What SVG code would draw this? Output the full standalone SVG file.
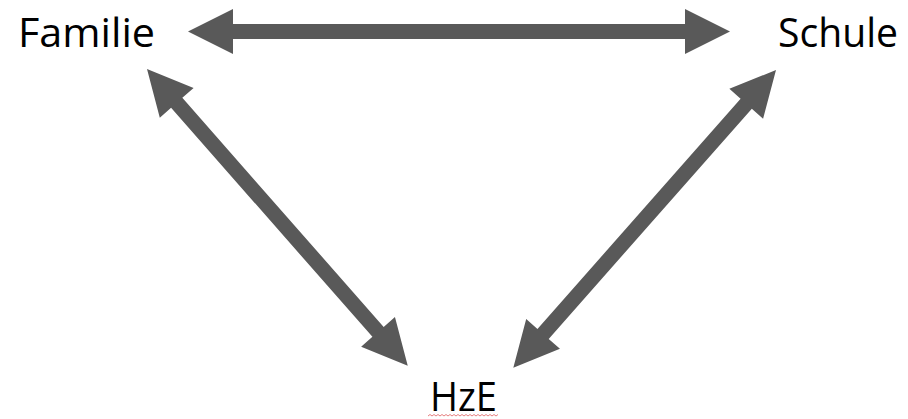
<svg xmlns="http://www.w3.org/2000/svg" width="908" height="419" viewBox="0 0 908 419">
  <style>
    .label { font-family: "Open Sans", "Liberation Sans", sans-serif; font-size: 40px; fill: #000; }
    .arrow { fill: #595959; }
  </style>
  <rect width="908" height="419" fill="#fff"/>
  <g id="connectors">
    <!-- double-headed arrow: tip at origin, second tip at (L,0) -->
    <polygon class="arrow" transform="translate(188,31.5)"
      points="0,0 45,-22.5 45,-7.5 497,-7.5 497,-22.5 542,0 497,22.5 497,7.5 45,7.5 45,22.5"/>
    <polygon class="arrow" transform="translate(147,69) rotate(48.69)"
      points="0,0 45,-22.5 45,-7.5 350,-7.5 350,-22.5 395,0 350,22.5 350,7.5 45,7.5 45,22.5"/>
    <polygon class="arrow" transform="translate(776,70) rotate(131.43)"
      points="0,0 45,-22.5 45,-7.5 352,-7.5 352,-22.5 397,0 352,22.5 352,7.5 45,7.5 45,22.5"/>
  </g>
  <g id="familie">
    <text class="label" x="18" y="47" textLength="137" lengthAdjust="spacingAndGlyphs">Familie</text>
  </g>
  <g id="schule">
    <text class="label" x="778" y="47" textLength="120" lengthAdjust="spacingAndGlyphs">Schule</text>
  </g>
  <g id="hze">
    <text class="label" x="430" y="411" font-size="38" textLength="67" lengthAdjust="spacingAndGlyphs">HzE</text>
    <path d="M428,416 l2,-1.5 l2,1.5 l2,-1.5 l2,1.5 l2,-1.5 l2,1.5 l2,-1.5 l2,1.5 l2,-1.5 l2,1.5 l2,-1.5 l2,1.5 l2,-1.5 l2,1.5 l2,-1.5 l2,1.5 l2,-1.5 l2,1.5 l2,-1.5 l2,1.5 l2,-1.5 l2,1.5 l2,-1.5 l2,1.5 l2,-1.5 l2,1.5 l2,-1.5 l2,1.5 l2,-1.5 l2,1.5 l2,-1.5 l2,1.5 l2,-1.5 l2,1.5 l2,-1.5" fill="none" stroke="#e06060" stroke-width="0.8"/>
  </g>
</svg>
